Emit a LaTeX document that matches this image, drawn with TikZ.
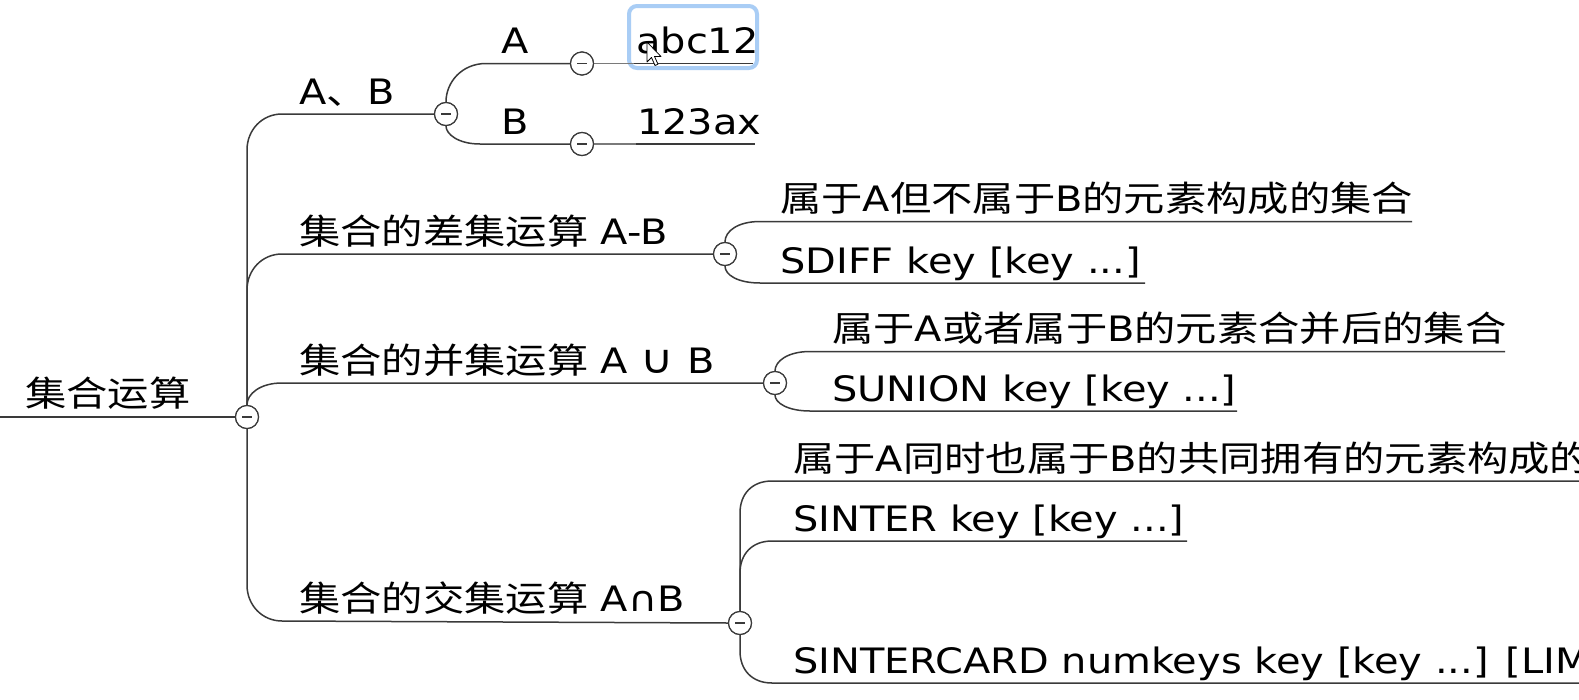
\documentclass[tikz,border=0pt]{standalone}
\usepackage{fontspec}
\setmainfont{DejaVu Sans}[FakeStretch=1.14]
\newfontfamily\cjkf{Noto Sans CJK SC}[FakeStretch=1.18]
\newcommand\zh[1]{{\cjkf #1}}
\definecolor{linec}{HTML}{3A3A3A}
\definecolor{lightc}{HTML}{7A7A7A}
\definecolor{selc}{HTML}{A9CDF5}
\tikzset{
  ln/.style={line width=1.5pt, draw=linec},
  thinln/.style={line width=1.2pt, draw=lightc},
  knob/.style={circle, draw=linec, fill=white, line width=1.2pt, minimum size=23pt, inner sep=0pt,
    path picture={\draw[line width=1.6pt, draw=linec] ([xshift=-5pt]path picture bounding box.center) -- ([xshift=5pt]path picture bounding box.center);}},
  txt/.style={anchor=base west, inner sep=0pt, font=\fontsize{35}{40}\selectfont, text=black}
}
\begin{document}
\begin{tikzpicture}[x=1pt,y=-1pt]
\useasboundingbox (0,0) rectangle (1579,699);
\clip (0,0) rectangle (1579,699);
\fill[white] (0,0) rectangle (1579,699);

% selection box
\draw[selc, line width=4pt, rounded corners=8pt] (629,6) rectangle (757,68);

% circles
\node[knob] (c0) at (247,417) {};
\node[knob] (cAB) at (446,114) {};
\node[knob] (cA) at (582,63.5) {};
\node[knob] (cB) at (582,144) {};
\node[knob] (c1) at (725,254) {};
\node[knob] (c2) at (775,383) {};
\node[knob] (c3) at (740,623) {};

% free ends
\coordinate (rootL) at (0,417);
\coordinate (aS) at (634,63.5);  \coordinate (aE) at (753,63.5);
\coordinate (bS) at (636,144);   \coordinate (bE) at (755,144);
\coordinate (d1E) at (1412,221.5);
\coordinate (d2E) at (1145,283);
\coordinate (u1E) at (1505,351.5);
\coordinate (u2E) at (1237,411);
\coordinate (i1E) at (1579,481);
\coordinate (i2E) at (1187,541);
\coordinate (i3E) at (1579,683);

% texts
\node[txt] (root) at (25,406) {\zh{集合运算}};
\node[txt] (tAB) at (299,104) {A\zh{、}B};
\node[txt] (tA) at (501,53) {A};
\node[txt] (tB) at (501,134) {B};
\node[txt] (vA) at (636,53) {abc12};
\node[txt] (vB) at (637,134) {123ax};
\node[txt] (tD) at (299,244) {\zh{集合的差集运算} A-B};
\node[txt] (tD1) at (780,211) {\zh{属于}A\zh{但不属于}B\zh{的元素构成的集合}};
\node[txt] (tD2) at (780,273) {SDIFF key [key ...]};
\node[txt] (tU) at (299,373) {\zh{集合的并集运算} A {\fontsize{40}{40}\selectfont∪} B};
\node[txt] (tU1) at (832,341) {\zh{属于}A\zh{或者属于}B\zh{的元素合并后的集合}};
\node[txt] (tU2) at (832,401) {SUNION key [key ...]};
\node[txt] (tI) at (299,611) {\zh{集合的交集运算} A∩B};
\node[txt] (tI1) at (793,471) {\zh{属于}A\zh{同时也属于}B\zh{的共同拥有的元素构成的集合}};
\node[txt] (tI2) at (793,531) {SINTER key [key ...]};
\node[txt] (tI3) at (793,673) {SINTERCARD numkeys key [key ...] [LIMIT limit]};

% connectors
\draw[ln] (rootL) -- (c0.west);
\draw[ln] (c0.north) -- (247,150) .. controls (247,130) and (262,114) .. (282,114) -- (cAB.west);
\draw[ln] (c0.north) -- (247,290) .. controls (247,270) and (262,254) .. (282,254) -- (c1.west);
\draw[ln] (c0.north) .. controls (247,394) and (260,383) .. (282,383) -- (c2.west);
\draw[ln] (c0.south) -- (247,585) .. controls (247,605) and (262,621) .. (282,621) -- (c3.west);

\draw[ln] (cAB.north) .. controls (446,82) and (462,63.5) .. (486,63.5) -- (cA.west);
\draw[ln] (cAB.south) .. controls (446,134) and (458,144) .. (480,144) -- (cB.west);
\draw[thinln] (cA.east) -- (aS);
\draw[ln] (aS) -- (aE);
\draw[thinln] (cB.east) -- (bS);
\draw[ln] (bS) -- (bE);

\draw[ln] (c1.north) .. controls (725,231) and (738,221.5) .. (760,221.5) -- (d1E);
\draw[ln] (c1.south) .. controls (725,275) and (738,283) .. (760,283) -- (d2E);

\draw[ln] (c2.north) .. controls (775,361) and (788,351.5) .. (810,351.5) -- (u1E);
\draw[ln] (c2.south) .. controls (775,403) and (788,411) .. (810,411) -- (u2E);

\draw[ln] (c3.north) -- (740,513) .. controls (740,494) and (752,481) .. (772,481) -- (i1E);
\draw[ln] (c3.north) -- (740,573) .. controls (740,554) and (752,541) .. (772,541) -- (i2E);
\draw[ln] (c3.south) -- (740,651) .. controls (740,670) and (752,683) .. (772,683) -- (i3E);

% redraw circles on top
\foreach \c in {c0,cAB,cA,cB,c1,c2,c3}{
  \node[knob] at (\c) {};
}

% mouse cursor
\draw[black, fill=white, line width=0.8pt, line join=round]
  (647,42) -- (647,62) -- (651.5,57.5) -- (655,65.5) -- (658,64.2) -- (654.5,56.5) -- (661,56.5) -- cycle;
\end{tikzpicture}
\end{document}
